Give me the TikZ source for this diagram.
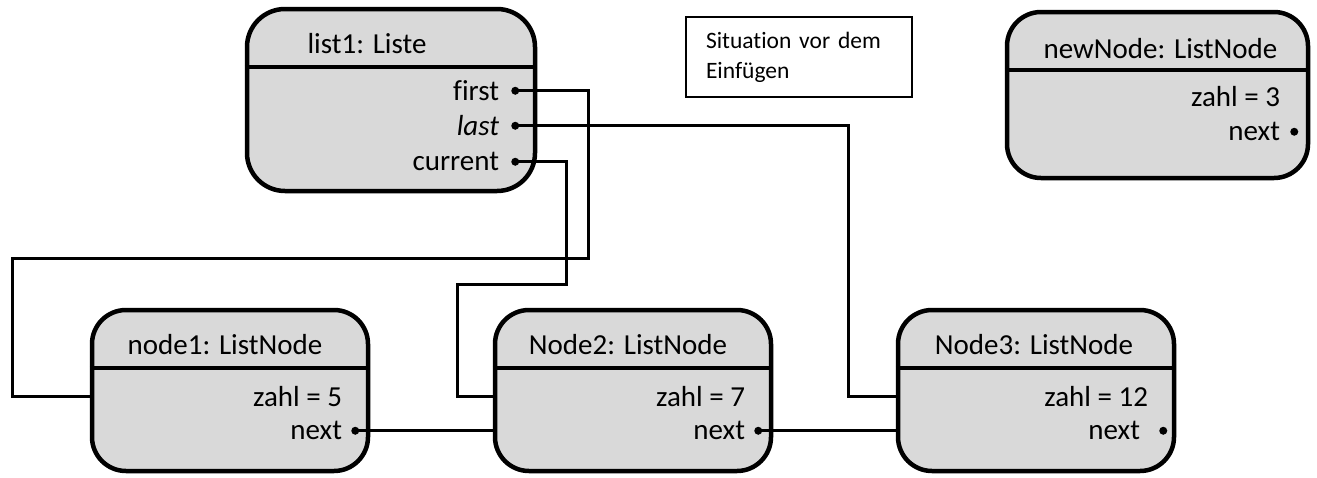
\documentclass[tikz,border=0pt]{standalone}
\usepackage{fontspec}
\setmainfont[Ligatures=NoCommon]{Carlito}
\usetikzlibrary{positioning}
\definecolor{boxgray}{HTML}{D9D9D9}

\begin{document}
\begin{tikzpicture}[x=1pt,y=-1pt,node distance=122.5pt,
    objbox/.style={draw,line width=4.5pt,fill=boxgray,rounded corners=34pt,inner sep=0pt},
    sepline/.style={line width=4.5pt},
    title/.style={inner sep=0pt,font=\fontsize{29}{34}\selectfont},
    attr/.style={inner sep=0pt,anchor=east,font=\fontsize{29}{34}\selectfont},
    notebox/.style={draw,line width=2pt,inner xsep=20pt,inner ysep=0pt,text width=186pt,
        minimum height=80pt,align=left,font=\fontsize{23.5}{30}\selectfont},
    link/.style={line width=3pt}]
    \useasboundingbox (0,0) rectangle (1317,477);
    %
    \node[objbox,minimum width=288pt,minimum height=182pt,rounded corners=38pt] (list1) at (391,100) {};
    \node[objbox,minimum width=301pt,minimum height=166pt] (newnode) at (1157.5,95) {};
    \node[objbox,minimum width=276pt,minimum height=161pt] (n1) at (230,390.5) {};
    \node[objbox,minimum width=276pt,minimum height=161pt,right=of n1] (n2) {};
    \node[objbox,minimum width=276pt,minimum height=161pt,right=of n2] (n3) {};
    \node[notebox,anchor=north west] (note) at (685,16) {Situation vor dem\\Einfügen};
    %
    \draw[sepline] ([yshift=-60pt]list1.north west)   -- ([yshift=-60pt]list1.north east);
    \draw[sepline] ([yshift=-60pt]newnode.north west) -- ([yshift=-60pt]newnode.north east);
    \draw[sepline] ([yshift=-60pt]n1.north west)      -- ([yshift=-60pt]n1.north east);
    \draw[sepline] ([yshift=-60pt]n2.north west)      -- ([yshift=-60pt]n2.north east);
    \draw[sepline] ([yshift=-60pt]n3.north west)      -- ([yshift=-60pt]n3.north east);
    %
    \node[title] (l1title) at ([xshift=-24pt,yshift=-37pt]list1.north)  {list1: Liste};
    \node[title] (nntitle) at ([xshift=3pt,yshift=-39pt]newnode.north)  {newNode: ListNode};
    \node[title] (n1title) at ([xshift=-5pt,yshift=-37pt]n1.north)      {node1: ListNode};
    \node[title] (n2title) at ([xshift=-5pt,yshift=-37pt]n2.north)      {Node2: ListNode};
    \node[title] (n3title) at ([xshift=-2pt,yshift=-37pt]n3.north)      {Node3: ListNode};
    %
    \node[attr] (l1first)   at ([xshift=-38pt,yshift=-84pt]list1.north east)  {first};
    \node[attr] (l1last)    at ([xshift=-38pt,yshift=-119pt]list1.north east) {\textit{last}};
    \node[attr] (l1current) at ([xshift=-38pt,yshift=-155pt]list1.north east) {current};
    \coordinate (l1firstdot)   at ([xshift=-22pt,yshift=-84pt]list1.north east);
    \coordinate (l1lastdot)    at ([xshift=-22pt,yshift=-119pt]list1.north east);
    \coordinate (l1currentdot) at ([xshift=-22pt,yshift=-155pt]list1.north east);
    %
    \node[attr] (nnzahl) at ([xshift=-30pt,yshift=-87pt]newnode.north east)  {zahl = 3};
    \node[attr] (nnnext) at ([xshift=-30pt,yshift=-122pt]newnode.north east) {next};
    \coordinate (nnnextdot) at ([xshift=-16pt,yshift=-122pt]newnode.north east);
    \node[attr] (n1zahl) at ([xshift=-28pt,yshift=-89pt]n1.north east)  {zahl = 5};
    \node[attr] (n1next) at ([xshift=-28pt,yshift=-123pt]n1.north east) {next};
    \coordinate (n1nextdot) at ([xshift=-15pt,yshift=-123pt]n1.north east);
    \node[attr] (n2zahl) at ([xshift=-28pt,yshift=-89pt]n2.north east)  {zahl = 7};
    \node[attr] (n2next) at ([xshift=-28pt,yshift=-123pt]n2.north east) {next};
    \coordinate (n2nextdot) at ([xshift=-15pt,yshift=-123pt]n2.north east);
    \node[attr] (n3zahl) at ([xshift=-28pt,yshift=-89pt]n3.north east)  {zahl = 12};
    \node[attr] (n3next) at ([xshift=-36pt,yshift=-123pt]n3.north east) {next};
    \coordinate (n3nextdot) at ([xshift=-13pt,yshift=-123pt]n3.north east);
    %
    \draw[link] (l1firstdot)   -| (588,258) -- (12,258) |- (n1.west |- n1zahl);
    \draw[link] (l1currentdot) -| (566,284) -- (457,284) |- (n2.west |- n2zahl);
    \draw[link] (l1lastdot)    -| (848,300) |- (n3.west |- n3zahl);
    \draw[link] (n1nextdot)    -- (n2.west |- n1nextdot);
    \draw[link] (n2nextdot)    -- (n3.west |- n2nextdot);
    %
    \fill (l1firstdot) circle (4pt) (l1lastdot) circle (4pt) (l1currentdot) circle (4pt)
          (nnnextdot) circle (4pt) (n1nextdot) circle (4pt) (n2nextdot) circle (4pt)
          (n3nextdot) circle (4pt);
\end{tikzpicture}
\end{document}
